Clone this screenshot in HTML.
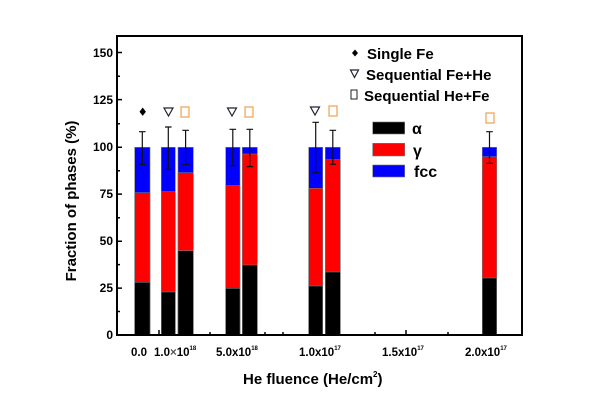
<!DOCTYPE html>
<html><head><meta charset="utf-8"><style>
html,body{margin:0;padding:0;background:#fff;}
svg{display:block;font-family:"Liberation Sans",Arial,sans-serif;font-weight:bold;}
</style></head><body>
<svg width="600" height="410" viewBox="0 0 600 410" xmlns="http://www.w3.org/2000/svg">
<rect width="600" height="410" fill="#fff"/>
<g stroke="#777" stroke-width="0.6">
<rect x="134.7" y="147.3" width="15.3" height="187.7" fill="#0000ff"/><rect x="134.7" y="192.7" width="15.3" height="142.3" fill="#ff0000"/><rect x="134.7" y="282.3" width="15.3" height="52.7" fill="#000"/>
<rect x="161.3" y="147.3" width="14" height="187.7" fill="#0000ff"/><rect x="161.3" y="191.7" width="14" height="143.3" fill="#ff0000"/><rect x="161.3" y="292" width="14" height="43" fill="#000"/>
<rect x="178" y="147.3" width="15.3" height="187.7" fill="#0000ff"/><rect x="178" y="172.7" width="15.3" height="162.3" fill="#ff0000"/><rect x="178" y="250.7" width="15.3" height="84.3" fill="#000"/>
<rect x="225.7" y="147.3" width="14.3" height="187.7" fill="#0000ff"/><rect x="225.7" y="185.7" width="14.3" height="149.3" fill="#ff0000"/><rect x="225.7" y="288.3" width="14.3" height="46.7" fill="#000"/>
<rect x="242.3" y="147.3" width="15" height="187.7" fill="#0000ff"/><rect x="242.3" y="154" width="15" height="181" fill="#ff0000"/><rect x="242.3" y="265" width="15" height="70" fill="#000"/>
<rect x="308.7" y="147.3" width="14" height="187.7" fill="#0000ff"/><rect x="308.7" y="188.3" width="14" height="146.7" fill="#ff0000"/><rect x="308.7" y="286" width="14" height="49" fill="#000"/>
<rect x="325.3" y="147.3" width="15" height="187.7" fill="#0000ff"/><rect x="325.3" y="159.7" width="15" height="175.3" fill="#ff0000"/><rect x="325.3" y="272" width="15" height="63" fill="#000"/>
<rect x="482.3" y="147.3" width="14.4" height="187.7" fill="#0000ff"/><rect x="482.3" y="156.7" width="14.4" height="178.3" fill="#ff0000"/><rect x="482.3" y="278" width="14.4" height="57" fill="#000"/>
</g>
<g stroke="#111" stroke-width="1.2" fill="none">
<path d="M142.3 131.7V164.3M139 131.7h6.6M139 164.3h6.6"/>
<path d="M168.3 127V169.3M165 127h6.6M165 169.3h6.6"/>
<path d="M185.6 130.3V164.3M182.3 130.3h6.6M182.3 164.3h6.6"/>
<path d="M232.8 129.3V165.7M229.5 129.3h6.6M229.5 165.7h6.6"/>
<path d="M249.8 129.3V166.7M246.5 129.3h6.6M246.5 166.7h6.6"/>
<path d="M315.7 122.3V172.7M312.4 122.3h6.6M312.4 172.7h6.6"/>
<path d="M332.8 130.3V164.3M329.5 130.3h6.6M329.5 164.3h6.6"/>
<path d="M489.5 131.7V163.3M486.2 131.7h6.6M486.2 163.3h6.6"/>
</g>
<path d="M142.7 107.5l3.2 4.2-3.2 4.2-3.2-4.2z" fill="#000"/>
<g fill="none" stroke="#223" stroke-width="1.2">
<path d="M164 108h9l-4.5 8z"/><path d="M227.5 108h9l-4.5 8z"/><path d="M310.5 107h9l-4.5 8z"/>
<path d="M350.5 70h8l-4 7.5z"/>
</g>
<g fill="none" stroke="#f0a050" stroke-width="1.2">
<rect x="181" y="107" width="8" height="10"/><rect x="245" y="107" width="8" height="10"/><rect x="329" y="106" width="8" height="10"/><rect x="486" y="113" width="8" height="10"/>
</g>
<rect x="351" y="90" width="6" height="9" fill="none" stroke="#222" stroke-width="1"/>
<path d="M355 49.5l3 3.5-3 3.5-3-3.5z" fill="#000"/>
<g font-size="15" fill="#000">
<text x="367" y="59">Single Fe</text>
<text x="366" y="80">Sequential Fe+He</text>
<text x="364" y="101">Sequential He+Fe</text>
</g>
<rect x="372.7" y="122" width="32" height="12" fill="#000" stroke="#777" stroke-width="0.6"/>
<rect x="372.7" y="143.3" width="32" height="12.7" fill="#ff0000" stroke="#777" stroke-width="0.6"/>
<rect x="372.7" y="165" width="32" height="12" fill="#0000ff" stroke="#777" stroke-width="0.6"/>
<g font-size="16" fill="#000">
<text x="412" y="134">α</text>
<text x="413" y="156">γ</text>
<text x="414" y="177">fcc</text>
</g>
<rect x="117" y="36" width="405" height="299" fill="none" stroke="#000" stroke-width="2"/>
<g stroke="#000" stroke-width="1.5">
<path d="M117 335h5M117 288.1h5M117 241.2h5M117 194.1h5M117 147.3h5M117 99.6h5M117 52.5h5"/>
<path d="M117 76.3h3M117 123.7h3M117 170.7h3M117 217.7h3M117 264.6h3M117 311.5h3"/>
<path d="M159 335v-5M210 335v-3M265 335v-3M283 335v-3M375 335v-3M406 335v-5M448 335v-3"/>
</g>
<g font-size="12" fill="#000" text-anchor="end">
<text x="113" y="339">0</text>
<text x="113" y="292">25</text>
<text x="113" y="245">50</text>
<text x="113" y="198">75</text>
<text x="113" y="151">100</text>
<text x="113" y="104">125</text>
<text x="113" y="57">150</text>
</g>
<g font-size="11.5" fill="#000">
<text x="131" y="356">0.0</text>
<text x="154" y="356">1.0<tspan fill="#555">×</tspan>10<tspan font-size="6" dy="-6">18</tspan></text>
<text x="216" y="356">5.0x10<tspan font-size="6" dy="-6">18</tspan></text>
<text x="299" y="356">1.0x10<tspan font-size="6" dy="-6">17</tspan></text>
<text x="382" y="356">1.5x10<tspan font-size="6" dy="-6">17</tspan></text>
<text x="465" y="356">2.0x10<tspan font-size="6" dy="-6">17</tspan></text>
</g>
<text x="243" y="384" font-size="15">He fluence (He/cm<tspan font-size="8" dy="-7">2</tspan><tspan dy="7">)</tspan></text>
<text transform="translate(76,201) rotate(-90)" text-anchor="middle" font-size="15">Fraction of phases (%)</text>
</svg>
</body></html>
